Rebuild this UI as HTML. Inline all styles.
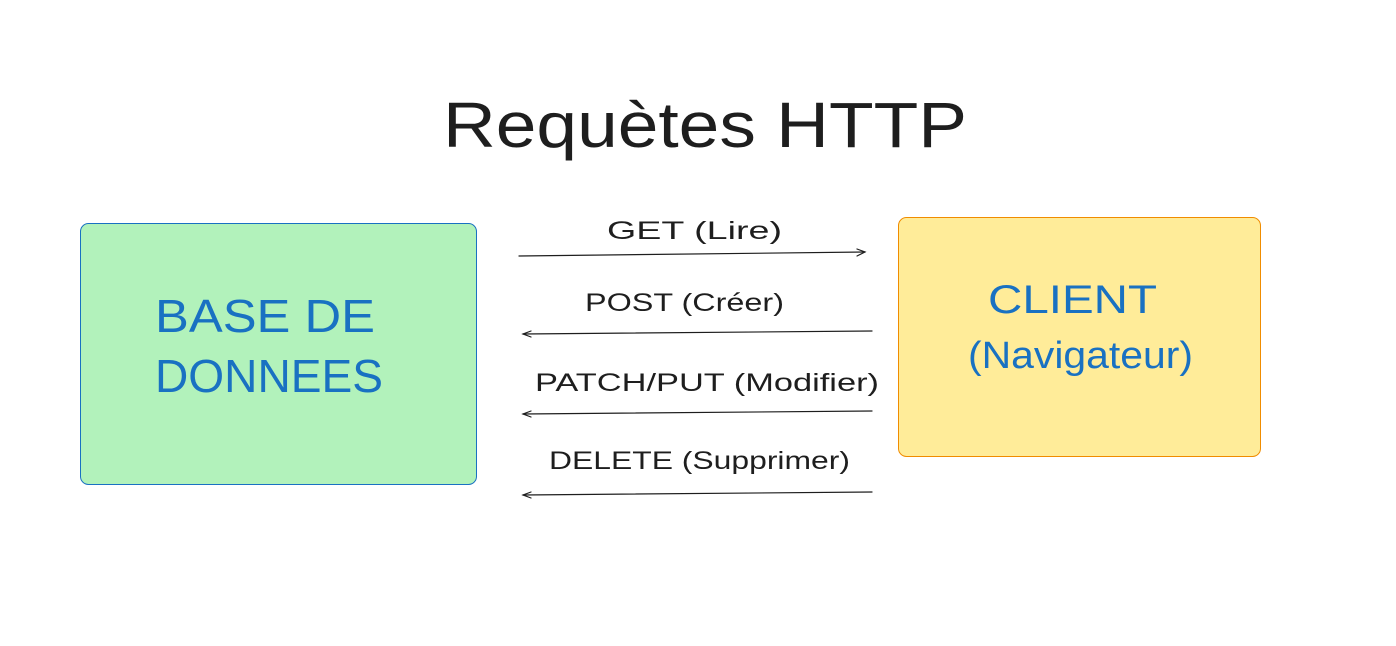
<!DOCTYPE html>
<html><head><meta charset="utf-8"><style>html,body{margin:0;padding:0;background:#fff}svg{display:block}</style></head>
<body>
<svg width="1396" height="646" viewBox="0 0 1396 646" xmlns="http://www.w3.org/2000/svg" font-family="'Liberation Sans', sans-serif">
<rect x="0" y="0" width="1396" height="646" fill="#fff"/>
<text x="443" y="147" font-size="64" fill="#1e1e1e" textLength="524" lengthAdjust="spacingAndGlyphs">Requètes HTTP</text>
<rect x="80.5" y="223.5" width="396" height="261" rx="8" fill="#b2f2bb" stroke="#1971c2" stroke-width="1"/>
<rect x="898.5" y="217.5" width="362" height="239" rx="8" fill="#ffec99" stroke="#f08c00" stroke-width="1"/>
<g fill="#1971c2">
<text x="155" y="332" font-size="46" textLength="220" lengthAdjust="spacingAndGlyphs">BASE DE</text>
<text x="155" y="392" font-size="46" textLength="228" lengthAdjust="spacingAndGlyphs">DONNEES</text>
<text x="988" y="313" font-size="40" textLength="169" lengthAdjust="spacingAndGlyphs">CLIENT</text>
<text x="968" y="368" font-size="38" textLength="225" lengthAdjust="spacingAndGlyphs">(Navigateur)</text>
</g>
<g fill="#1e1e1e" font-size="25">
<text x="607" y="239" textLength="175" lengthAdjust="spacingAndGlyphs">GET  (Lire)</text>
<text x="585" y="311" textLength="199" lengthAdjust="spacingAndGlyphs">POST (Créer)</text>
<text x="535" y="391" textLength="344" lengthAdjust="spacingAndGlyphs">PATCH/PUT (Modifier)</text>
<text x="549" y="469" textLength="301" lengthAdjust="spacingAndGlyphs">DELETE (Supprimer)</text>
</g>
<g stroke="#1e1e1e" stroke-width="1.2" fill="none" stroke-linecap="round">
<path d="M519 256 L865 252"/><path d="M857 249 L865 252 L857 256"/>
<path d="M872 331 L523 334"/><path d="M531 331 L523 334 L531 337"/>
<path d="M872 411 L523 414"/><path d="M531 411 L523 414 L531 417"/>
<path d="M872 492 L523 495"/><path d="M531 492 L523 495 L531 498"/>
</g>
</svg>
</body></html>
